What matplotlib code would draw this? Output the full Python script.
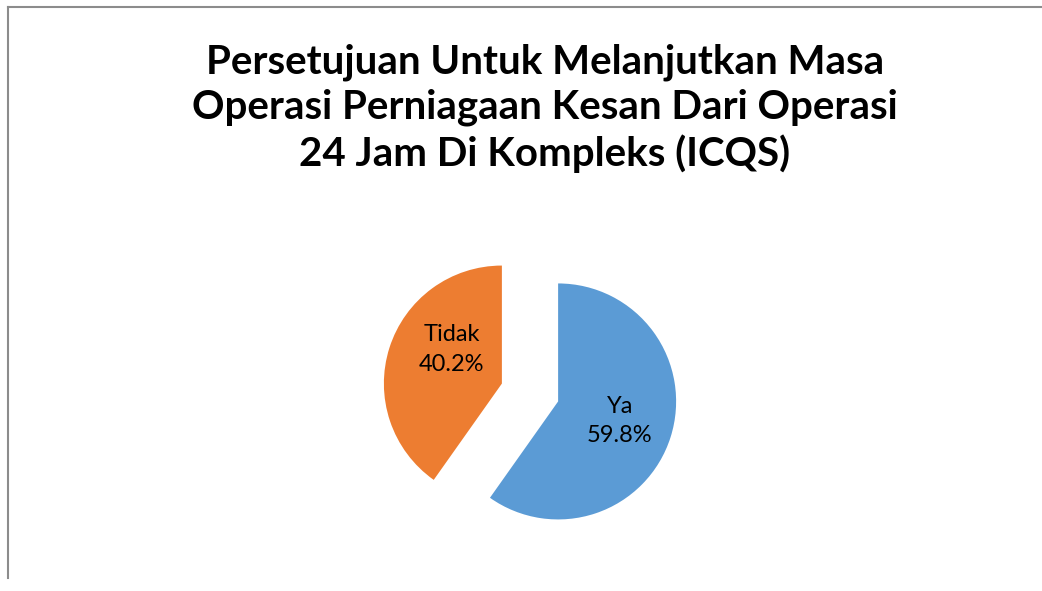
import matplotlib.pyplot as plt
from matplotlib.lines import Line2D

# data
categories = ["Ya", "Tidak"]
percent = [59.8, 40.2]
colors = ["#5B9BD5", "#ED7D31"]
title = "Persetujuan Untuk Melanjutkan Masa\nOperasi Perniagaan Kesan Dari Operasi\n24 Jam Di Kompleks (ICQS)"

plt.rcParams['font.family'] = ['Lato', 'DejaVu Sans']

fig = plt.figure(figsize=(10.42, 5.91), dpi=100)
W, H = 1042, 591

# chart border (top and left visible)
fig.add_artist(Line2D([8 / W, 1.0], [1 - 6.5 / H, 1 - 6.5 / H], color="#8c8c8c", lw=1.5))
fig.add_artist(Line2D([8 / W, 8 / W], [1 - 6.5 / H, 1 - 578 / H], color="#8c8c8c", lw=1.5))

# pie axes: radius 1 -> 118 px, centred at (530, 392.5) px
r = 118
cx, cy = 530, 392.5
half = 1.5 * r
ax = fig.add_axes([(cx - half) / W, (H - cy - half) / H, 2 * half / W, 2 * half / H])

labels_txt = [f"{c}\n{p:.1f}%" for c, p in zip(categories, percent)]
wedges, texts = ax.pie(percent, colors=colors, startangle=90, counterclock=False,
                       explode=[0.25, 0.25], radius=1, frame=True,
                       labels=labels_txt, labeldistance=0.55,
                       textprops=dict(fontsize=17, va="center", linespacing=1.5))
ax.set_xlim(-1.5, 1.5)
ax.set_ylim(-1.5, 1.5)
ax.set_aspect("equal")
ax.axis("off")
for t in texts:
    t.set_horizontalalignment("center")
# nudge Tidak label toward Excel's best-fit position
x, y = texts[1].get_position()
texts[1].set_position((x + 0.1, y + 0.12))

fig.text(545 / W, 1 - 108.5 / H, title, ha="center", va="center", fontsize=29,
         fontweight="bold", linespacing=1.25)

fig.savefig("out.png", dpi=100, facecolor="white")
